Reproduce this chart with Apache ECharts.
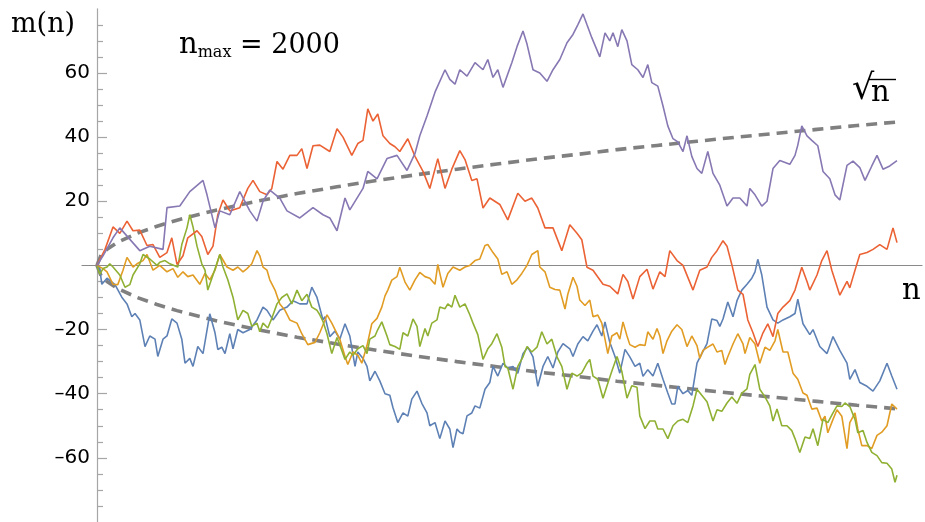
<!DOCTYPE html>
<html>
<head>
<meta charset="utf-8">
<script src="https://cdn.jsdelivr.net/npm/echarts@6/dist/echarts.min.js"></script>
<style>
html,body{margin:0;padding:0;background:#fff;}
#chart{width:925px;height:522px;}
</style>
</head>
<body>
<div id="chart"></div>
<script>
// ---- data: [n, m(n)] ----
const blueWalk = [[0,0],[7,-1],[12,-5.9],[25,-4],[45,-6],[62,-9.9],[75,-12],[87,-16],[95,-15],[107,-17],[120,-25.3],[132,-22],[145,-23],[152,-28.4],[165,-23],[175,-22],[187,-16.7],[200,-18],[212,-23],[220,-30.5],[232,-29],[240,-31.5],[252,-25.3],[265,-27.5],[282,-15.1],[295,-21],[302,-26.2],[312,-25.5],[320,-27.5],[332,-21.3],[340,-26],[352,-20],[365,-21],[382,-20],[400,-17],[415,-13],[425,-14],[440,-17],[457,-14],[475,-13],[490,-11],[507,-12],[525,-12],[537,-6.8],[550,-10],[565,-17],[570,-16],[582,-22.2],[595,-20.5],[607,-23],[620,-18.2],[632,-22],[645,-31.5],[652,-27],[665,-29],[675,-31.5],[682,-36],[695,-33],[707,-36],[720,-40],[732,-40.5],[740,-44.4],[752,-49],[765,-46],[777,-47],[787,-41.7],[800,-39.2],[812,-43],[825,-46],[832,-50],[845,-49],[857,-54],[870,-48.5],[882,-51],[890,-56.8],[900,-51],[907,-52],[915,-52.5],[925,-46.9],[937,-46],[945,-43.8],[957,-44.5],[970,-38.6],[982,-36.5],[990,-31.5],[1002,-34.5],[1015,-30.5],[1027,-32],[1040,-31.5],[1052,-33.6],[1065,-27.5],[1077,-25.5],[1090,-28.5],[1102,-37.7],[1115,-31.5],[1127,-28.4],[1140,-32],[1152,-27],[1165,-24.4],[1170,-25],[1182,-26],[1190,-28.4],[1202,-24.5],[1215,-22.2],[1227,-23.5],[1240,-20.5],[1250,-18.5],[1262,-22],[1270,-17.6],[1282,-24],[1295,-28.4],[1307,-33.6],[1320,-26.2],[1332,-28.5],[1345,-31.5],[1357,-30.5],[1365,-34.6],[1377,-32.5],[1390,-34.5],[1402,-30.5],[1415,-35.5],[1427,-39.8],[1437,-43.2],[1445,-43.2],[1452,-37.7],[1465,-40],[1477,-39],[1487,-40.5],[1500,-30.5],[1512,-27.5],[1525,-24.4],[1537,-16.7],[1550,-17.2],[1557,-19],[1565,-16.7],[1577,-11.4],[1590,-16],[1600,-11],[1612,-7.7],[1625,-5.9],[1637,-4],[1645,-2],[1652,1.9],[1662,-3],[1675,-13],[1690,-17],[1702,-18],[1715,-17],[1732,-16],[1745,-15],[1752,-10.5],[1765,-18.2],[1782,-21.6],[1790,-20],[1807,-25.3],[1825,-27.5],[1840,-22.2],[1857,-26.5],[1875,-30.5],[1882,-35.5],[1895,-32.5],[1907,-36.5],[1925,-37.7],[1940,-39.2],[1957,-36],[1975,-30.5],[1987,-34.5],[2000,-38.6]];

const orangeWalk = [[0,0],[15,-1],[25,-2],[40,-5.9],[52,-6],[65,-1.5],[75,2.5],[90,-0.5],[100,0.5],[115,1.5],[125,3.4],[140,-1.5],[157,0],[175,-2],[190,-1],[202,-3.7],[215,-2],[227,-3.5],[240,-3],[257,-5.9],[270,-2.5],[282,-4.5],[295,-1.5],[307,3.4],[325,-0.5],[340,-1.5],[352,-0.5],[365,-2],[375,-1],[387,0.5],[400,4.6],[407,3],[415,-0.5],[425,-1.5],[432,-4.5],[445,-7.7],[457,-12],[470,-14],[482,-17],[500,-18],[512,-21.3],[527,-24.7],[545,-24],[557,-21],[570,-17],[575,-15.4],[587,-18],[595,-20],[607,-23],[620,-28.4],[627,-30.9],[640,-27],[652,-28],[662,-30.5],[675,-25],[687,-18.2],[700,-16.5],[712,-13],[720,-9.5],[727,-7.7],[737,-4.6],[750,-3.5],[757,-0.6],[770,-5.2],[782,-7.7],[795,-4.5],[807,-2.2],[820,-3.5],[832,-4],[845,-5.9],[852,0.3],[865,-6.8],[877,-2.5],[890,-0.5],[907,-1.5],[920,-0.5],[932,0],[945,1.5],[957,2],[970,6.2],[977,6.5],[990,4],[1002,2],[1012,-2.8],[1025,-2],[1037,-5.9],[1050,-4.5],[1062,-2.5],[1075,0],[1082,2],[1087,3.4],[1102,4.6],[1107,-0.5],[1120,-2],[1132,-6.8],[1145,-7.5],[1157,-7.7],[1170,-13.6],[1177,-9],[1190,-3.7],[1200,-6.5],[1207,-10.8],[1220,-12.5],[1232,-10.8],[1240,-16],[1252,-15.5],[1262,-18],[1270,-23],[1277,-27.5],[1287,-22],[1300,-21],[1307,-23],[1315,-17.6],[1325,-22],[1332,-24.7],[1345,-25.5],[1357,-24.7],[1370,-25],[1377,-20.7],[1390,-23],[1400,-19.7],[1407,-22],[1415,-27.5],[1425,-23.5],[1437,-20.5],[1450,-18.5],[1462,-20],[1475,-25.3],[1487,-22],[1500,-25],[1507,-29],[1515,-26.5],[1527,-25.5],[1540,-24.5],[1550,-27],[1562,-26.5],[1570,-30.9],[1577,-28.5],[1590,-24.5],[1602,-21.3],[1615,-24.5],[1620,-27.5],[1632,-22.5],[1645,-24.5],[1657,-30.5],[1670,-25.5],[1682,-26.5],[1695,-23.5],[1702,-20],[1715,-27],[1727,-27],[1740,-33.6],[1752,-35.5],[1765,-39.8],[1775,-40.5],[1787,-44.8],[1800,-44.5],[1812,-48.5],[1820,-47],[1827,-52.2],[1840,-48],[1850,-45],[1862,-47],[1875,-57.1],[1882,-49],[1895,-46],[1902,-51],[1912,-56.2],[1925,-56.2],[1937,-57.1],[1950,-53],[1962,-52],[1975,-50],[1987,-43.2],[2000,-44.8]];

const greenWalk = [[0,0],[7,-2.8],[15,-1],[25,-0.5],[32,0.5],[40,-0.5],[57,-3],[70,-6.8],[82,-6],[90,-3],[107,0.5],[115,3.4],[132,2],[150,0],[157,1],[170,1.5],[182,0.5],[202,-0.5],[212,6.5],[225,11.7],[232,15.8],[240,12],[250,6],[262,0.5],[270,-1.5],[277,-7.7],[290,-3],[302,1.5],[307,3.4],[315,-0.5],[327,-4.5],[340,-9.9],[352,-17],[365,-14],[377,-15],[387,-19],[400,-18],[407,-20.7],[415,-18],[427,-19.5],[437,-16.5],[450,-12],[462,-10],[475,-8.9],[487,-12],[500,-7.7],[512,-11],[525,-9],[537,-13],[550,-14],[557,-15.4],[565,-17.5],[575,-21.3],[587,-27.5],[600,-22.5],[612,-26.5],[620,-29.3],[632,-27],[640,-28],[652,-26],[665,-25],[675,-27.5],[682,-23],[695,-22],[702,-20],[712,-17.6],[725,-22],[732,-24.7],[745,-25.3],[757,-26.2],[765,-21],[777,-22],[790,-16.7],[800,-19],[807,-25.3],[820,-19.7],[827,-22],[837,-18],[850,-17],[857,-13],[870,-13.5],[877,-12],[887,-13],[895,-9.3],[907,-13],[920,-12],[932,-15.4],[940,-18],[952,-21.6],[965,-29.3],[977,-26],[987,-24.4],[1000,-21.3],[1012,-25.5],[1020,-31.5],[1027,-32],[1040,-38.6],[1052,-31.5],[1065,-28.5],[1075,-25.3],[1087,-27],[1100,-25.5],[1112,-20.7],[1125,-24.5],[1137,-23],[1150,-28.5],[1162,-31.5],[1175,-38.6],[1187,-33.6],[1200,-34.5],[1212,-33.5],[1225,-30.5],[1232,-29.3],[1240,-34.5],[1252,-35.5],[1265,-41.4],[1275,-37.5],[1287,-33],[1300,-28.4],[1312,-33],[1325,-41.4],[1337,-37.5],[1350,-38],[1357,-46.9],[1370,-50.9],[1382,-48.5],[1395,-48.5],[1402,-51],[1415,-51],[1427,-54],[1440,-50],[1452,-48.5],[1465,-48],[1477,-49],[1490,-43.8],[1500,-38.6],[1512,-40.5],[1525,-42.5],[1540,-48.5],[1550,-45],[1562,-45.5],[1575,-42.9],[1587,-41],[1600,-43],[1612,-39.8],[1625,-38.5],[1632,-34],[1645,-30.9],[1657,-38.6],[1670,-41],[1682,-43.8],[1690,-48.5],[1700,-44.8],[1712,-50],[1725,-50],[1737,-51.5],[1745,-54],[1757,-58.3],[1770,-53.5],[1782,-54],[1790,-50.9],[1802,-56.2],[1815,-48],[1827,-49],[1840,-46],[1850,-43.8],[1862,-44],[1870,-42.9],[1882,-44],[1895,-48],[1902,-52.2],[1915,-51.5],[1925,-55.2],[1937,-58.3],[1950,-59.3],[1962,-61.5],[1975,-61.7],[1987,-63.5],[1995,-67.6],[2000,-65.4]];

const redWalk = [[0,0],[20,5],[40,12],[57,10],[75,13.8],[90,10.8],[107,11],[125,6.2],[140,6.5],[157,2.5],[175,4],[187,8.6],[200,0.3],[215,3],[227,8.6],[250,10.8],[262,9],[277,3.4],[290,6],[302,15.8],[315,20.4],[332,17],[357,18],[377,24],[390,26.5],[407,23],[425,22],[437,24],[450,32.4],[465,30],[482,34.3],[500,34.3],[512,36.4],[525,30.2],[540,37.3],[557,37.5],[582,35.5],[600,42.6],[615,40],[637,34.3],[652,38],[665,39],[677,48.8],[690,45],[702,47.2],[715,40.4],[732,38],[745,37],[757,35.5],[777,39.5],[795,34],[815,29.3],[832,24],[852,33.3],[870,24],[887,30],[907,35.8],[920,33],[937,26.5],[950,27],[965,17.9],[982,21],[1007,19],[1027,14.2],[1052,22.5],[1070,20],[1087,21],[1102,17.9],[1120,11.7],[1140,11.7],[1162,4.6],[1182,12.7],[1200,10],[1212,8],[1225,-0.6],[1240,-1.5],[1265,-5.9],[1282,-6.5],[1302,-8.9],[1315,-2.8],[1327,-5],[1340,-10.5],[1357,-3.5],[1375,-1.2],[1390,-7.4],[1407,-2],[1420,-3.5],[1432,4.6],[1450,1.5],[1465,0],[1490,-7.7],[1507,-1.5],[1525,-0.5],[1537,2.5],[1550,4.6],[1565,7.7],[1575,6],[1587,0.3],[1602,-7.7],[1615,-9],[1627,-17],[1640,-21],[1652,-25.3],[1665,-21],[1677,-18.2],[1690,-22.2],[1702,-15],[1715,-13],[1732,-11],[1745,-7.7],[1762,-0.6],[1775,-5],[1782,-7.7],[1800,-3],[1812,1.5],[1825,4.6],[1837,-1.5],[1857,-9.3],[1875,-5],[1882,-7],[1895,-1.5],[1907,3.4],[1925,4],[1940,5],[1957,6.5],[1975,5],[1990,11.7],[2000,7.1]];

const purpleWalk = [[0,0],[15,3],[40,8.6],[57,11.7],[107,4.6],[132,6],[165,5],[175,18],[207,18.5],[232,23],[265,26.5],[275,22],[295,11.7],[307,17],[332,15.8],[357,23],[382,17],[400,13.8],[415,20],[432,23.5],[457,21],[475,17],[507,14.8],[540,18],[565,15.8],[582,14.8],[600,10.8],[620,21],[632,17.3],[665,24],[677,29.3],[700,27],[725,33.3],[750,34.3],[775,29.6],[795,34.9],[807,40.4],[825,46.6],[845,54],[870,61],[882,58],[895,56.5],[907,61],[925,59],[945,63.2],[965,61],[977,64.2],[990,58.6],[1002,61],[1015,55.5],[1037,63.2],[1050,68.2],[1065,73.1],[1075,69],[1090,61],[1107,60],[1125,57.4],[1140,61],[1157,64.2],[1175,69.4],[1190,72],[1202,75],[1215,78.4],[1225,75],[1237,71],[1257,65],[1270,72.5],[1282,70],[1290,72.5],[1302,68.2],[1312,73.5],[1325,70],[1337,62.6],[1352,61],[1365,58.6],[1377,62.6],[1387,57],[1402,55.9],[1415,49.7],[1427,43.5],[1440,39.5],[1452,38.5],[1465,35.5],[1475,40.4],[1487,34],[1500,30.2],[1512,28.7],[1527,35.5],[1540,28.7],[1557,25],[1575,18.5],[1590,21],[1607,21],[1625,18.5],[1632,24],[1645,22],[1662,18.5],[1675,20],[1690,30.2],[1707,32.7],[1732,31.5],[1745,34.3],[1752,37.5],[1762,43.5],[1775,40.4],[1787,39],[1802,37.3],[1815,29.3],[1832,27],[1845,22],[1857,20.4],[1875,31.2],[1890,32.5],[1907,30.5],[1920,26.5],[1937,31],[1950,34.3],[1965,30],[1982,31],[2000,32.7]];

// dashed guide curves (read as +/- values of the sqrt(n) envelope)
const boundN = [0, 10, 25, 50, 100, 150, 200, 300, 400, 500, 600, 700, 800, 900, 1000, 1100, 1200, 1300, 1400, 1500, 1600, 1700, 1800, 1900, 2000];
const boundV = [0, 3.2, 5, 7.1, 10, 12.2, 14.1, 17.3, 20, 22.4, 24.5, 26.5, 28.3, 30, 31.6, 33.2, 34.6, 36.1, 37.4, 38.7, 40, 41.2, 42.4, 43.6, 44.7];

const yTickValues = [-60, -40, -20, 20, 40, 60];

const walkColors = ['#5E81B5', '#E19C24', '#8FB032', '#EB6235', '#8778B3'];
const walks = [blueWalk, orangeWalk, greenWalk, redWalk, purpleWalk];

const upper = boundN.map((n, i) => [n, boundV[i]]);
const lower = boundN.map((n, i) => [n, -boundV[i]]);

const chart = echarts.init(document.getElementById('chart'), null, {renderer: 'canvas'});

const dashStyle = {color: '#808080', width: 3.6, type: [11, 7], cap: 'butt'};

const series = [
  {type: 'line', data: upper, showSymbol: false, symbol: 'none', lineStyle: dashStyle, z: 1, silent: true},
  {type: 'line', data: lower, showSymbol: false, symbol: 'none', lineStyle: dashStyle, z: 1, silent: true}
];
walks.forEach((w, i) => {
  series.push({
    type: 'line', data: w, showSymbol: false, symbol: 'none', sampling: null,
    lineStyle: {color: walkColors[i], width: 1.6}, z: 2 + i, silent: true
  });
});

chart.setOption({
  animation: false,
  backgroundColor: '#fff',
  grid: {left: 82, right: 3, top: 8.8, bottom: -5.2, containLabel: false},
  xAxis: {
    type: 'value', min: -37.5, max: 2062.5,
    axisLine: {onZero: true, lineStyle: {color: '#8a8a8a', width: 1.2}},
    axisTick: {show: false}, axisLabel: {show: false}, splitLine: {show: false}
  },
  yAxis: {
    type: 'value', min: -80, max: 80, interval: 20,
    axisLine: {onZero: true, lineStyle: {color: '#a6a6a6', width: 1.2}},
    axisTick: {show: true, inside: true, length: 10, customValues: yTickValues, lineStyle: {color: '#a6a6a6', width: 1.2}},
    minorTick: {show: true, splitNumber: 4, length: 6, lineStyle: {color: '#a6a6a6', width: 1.2}},
    axisLabel: {
      customValues: yTickValues, margin: -8, color: '#000', fontSize: 20,
      fontFamily: '"DejaVu Sans", sans-serif',
      formatter: v => String(v).replace('-', '\u2013')
    },
    splitLine: {show: false}
  },
  series: series,
  graphic: [
    {type: 'text', left: 11, top: 11, style: {text: 'm(n)', font: '27px "DejaVu Serif"', fill: '#000'}},
    {type: 'text', left: 179, top: 31, style: {
      text: '{a|n}{b|max}{c| = 2000}',
      rich: {
        a: {font: '29px "DejaVu Serif"', fill: '#000'},
        b: {font: '16px "DejaVu Serif"', fill: '#000', padding: [14, 0, 0, 0]},
        c: {font: '27px "DejaVu Serif"', fill: '#000'}
      }
    }},
    {type: 'text', left: 852, top: 72, style: {text: '\u221A', font: '35px "DejaVu Serif"', fill: '#000'}},
    {type: 'text', left: 871, top: 79, style: {text: 'n', font: '29px "DejaVu Serif"', fill: '#000'}},
    {type: 'line', shape: {x1: 868, y1: 79.5, x2: 896, y2: 79.5}, style: {stroke: '#000', lineWidth: 1.4}},
    {type: 'text', left: 902, top: 277, style: {text: 'n', font: '29px "DejaVu Serif"', fill: '#000'}}
  ]
});
</script>
</body>
</html>
